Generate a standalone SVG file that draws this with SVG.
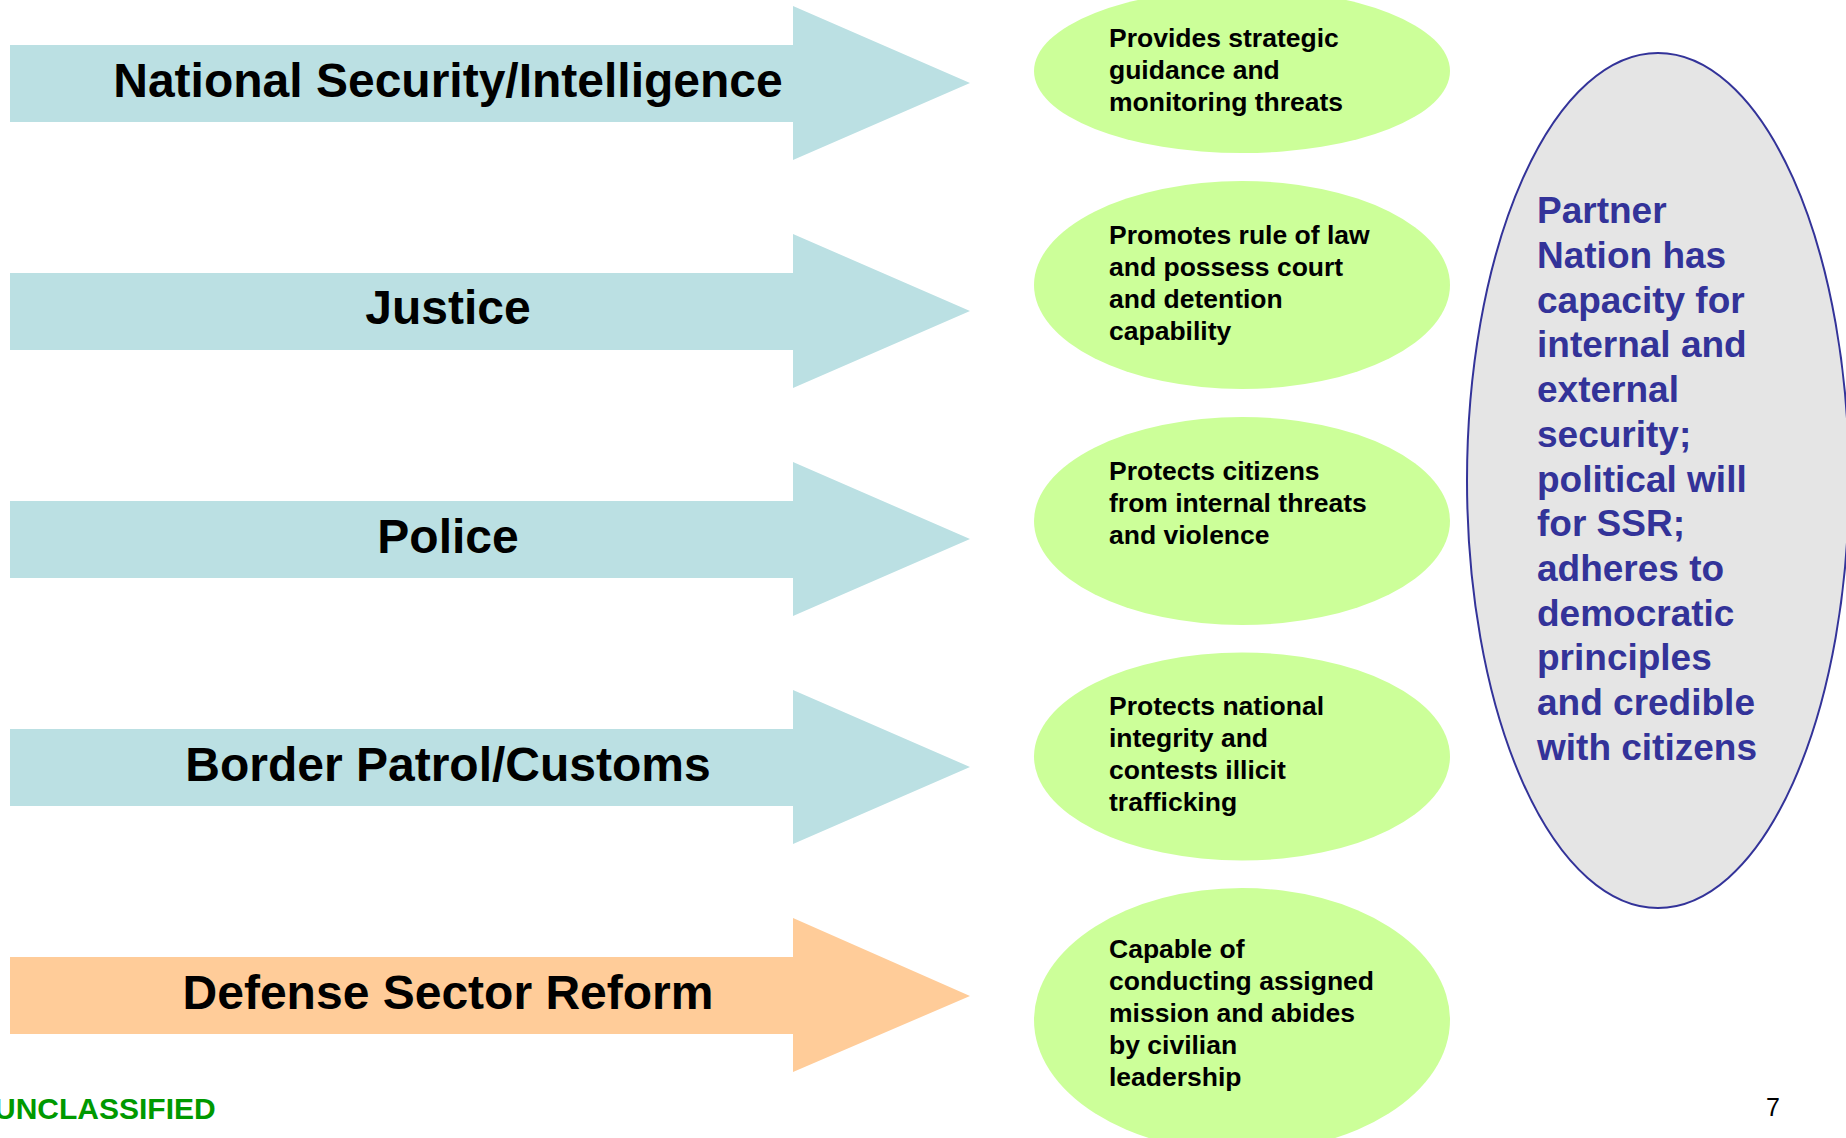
<svg xmlns="http://www.w3.org/2000/svg" width="1846" height="1138" viewBox="0 0 1846 1138">
<style>
.arrow-blue{fill:#BBE0E3}
.arrow-orange{fill:#FFCC99}
.alabel{font-family:"Liberation Sans",Arial,sans-serif;font-weight:bold;font-size:48px;fill:#000;text-anchor:middle}
.oval{fill:#CCFF99}
.otext{font-family:"Liberation Sans",Arial,sans-serif;font-weight:bold;font-size:26.5px;fill:#000}
.goal{fill:#E5E5E5;stroke:#333399;stroke-width:2}
.gtext{font-family:"Liberation Sans",Arial,sans-serif;font-weight:bold;font-size:37px;fill:#333399}
</style>
<rect width="1846" height="1138" fill="#FFFFFF"/>
<g id="arrow-natsec">
<polygon class="arrow-blue" points="10,45 793,45 793,6 970,83 793,160 793,122 10,122"/>
<text class="alabel" x="448" y="97">National Security/Intelligence</text>
</g>
<g id="arrow-justice">
<polygon class="arrow-blue" points="10,273 793,273 793,234 970,311 793,388 793,350 10,350"/>
<text class="alabel" x="448" y="324">Justice</text>
</g>
<g id="arrow-police">
<polygon class="arrow-blue" points="10,501 793,501 793,462 970,539 793,616 793,578 10,578"/>
<text class="alabel" x="448" y="553">Police</text>
</g>
<g id="arrow-border">
<polygon class="arrow-blue" points="10,729 793,729 793,690 970,767 793,844 793,806 10,806"/>
<text class="alabel" x="448" y="781">Border Patrol/Customs</text>
</g>
<g id="arrow-defense">
<polygon class="arrow-orange" points="10,957 793,957 793,918 970,996 793,1072 793,1034 10,1034"/>
<text class="alabel" x="448" y="1009">Defense Sector Reform</text>
</g>
<g id="oval-1">
<ellipse class="oval" cx="1242" cy="71" rx="208" ry="82"/>
<text class="otext" x="1109" y="47">Provides strategic</text>
<text class="otext" x="1109" y="79">guidance and</text>
<text class="otext" x="1109" y="111">monitoring threats</text>
</g>
<g id="oval-2">
<ellipse class="oval" cx="1242" cy="285" rx="208" ry="104"/>
<text class="otext" x="1109" y="244">Promotes rule of law</text>
<text class="otext" x="1109" y="276">and possess court</text>
<text class="otext" x="1109" y="308">and detention</text>
<text class="otext" x="1109" y="340">capability</text>
</g>
<g id="oval-3">
<ellipse class="oval" cx="1242" cy="521" rx="208" ry="104"/>
<text class="otext" x="1109" y="480">Protects citizens</text>
<text class="otext" x="1109" y="512">from internal threats</text>
<text class="otext" x="1109" y="544">and violence</text>
</g>
<g id="oval-4">
<ellipse class="oval" cx="1242" cy="756.5" rx="208" ry="104"/>
<text class="otext" x="1109" y="715">Protects national</text>
<text class="otext" x="1109" y="747">integrity and</text>
<text class="otext" x="1109" y="779">contests illicit</text>
<text class="otext" x="1109" y="811">trafficking</text>
</g>
<g id="oval-5">
<ellipse class="oval" cx="1242" cy="1020" rx="208" ry="132"/>
<text class="otext" x="1109" y="958">Capable of</text>
<text class="otext" x="1109" y="990">conducting assigned</text>
<text class="otext" x="1109" y="1022">mission and abides</text>
<text class="otext" x="1109" y="1054">by civilian</text>
<text class="otext" x="1109" y="1086">leadership</text>
</g>
<g id="goal">
<ellipse class="goal" cx="1658" cy="480.5" rx="191" ry="427.5"/>
<text class="gtext" x="1537" y="223.3">Partner</text>
<text class="gtext" x="1537" y="268">Nation has</text>
<text class="gtext" x="1537" y="312.7">capacity for</text>
<text class="gtext" x="1537" y="357.4">internal and</text>
<text class="gtext" x="1537" y="402.1">external</text>
<text class="gtext" x="1537" y="446.8">security;</text>
<text class="gtext" x="1537" y="491.5">political will</text>
<text class="gtext" x="1537" y="536.2">for SSR;</text>
<text class="gtext" x="1537" y="580.9">adheres to</text>
<text class="gtext" x="1537" y="625.6">democratic</text>
<text class="gtext" x="1537" y="670.3">principles</text>
<text class="gtext" x="1537" y="715">and credible</text>
<text class="gtext" x="1537" y="759.7">with citizens</text>
</g>
<g id="footer">
<text x="-6" y="1119" font-family="'Liberation Sans',Arial,sans-serif" font-weight="bold" font-size="30" fill="#009900">UNCLASSIFIED</text>
<text x="1766" y="1116" font-family="'Liberation Sans',Arial,sans-serif" font-size="25" fill="#000">7</text>
</g>
</svg>
